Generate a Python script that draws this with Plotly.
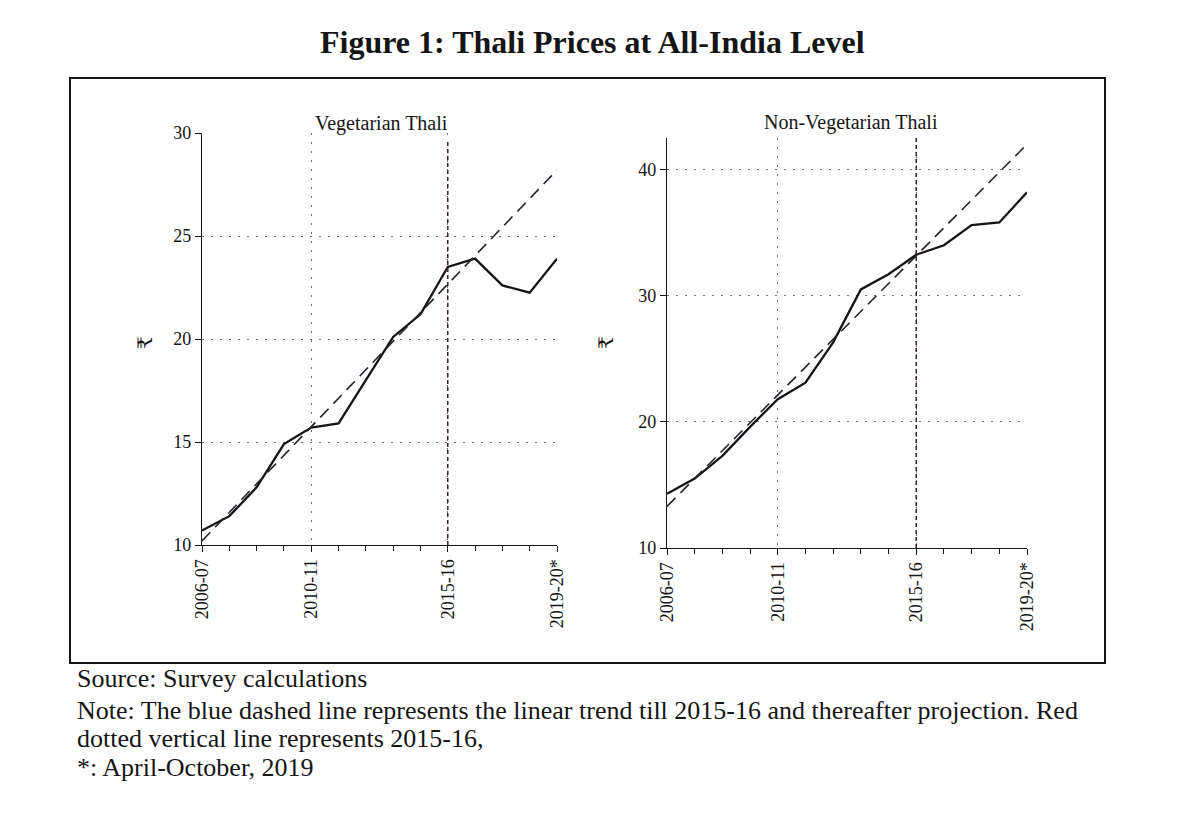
import plotly.graph_objects as go

# years on the x axis (fiscal years), * = April-October 2019
years = ["2006-07", "2007-08", "2008-09", "2009-10", "2010-11", "2011-12", "2012-13",
         "2013-14", "2014-15", "2015-16", "2016-17", "2017-18", "2018-19", "2019-20*"]
labelled = ["2006-07", "2010-11", "2015-16", "2019-20*"]

# thali prices in rupees
veg_price = [10.7, 11.4, 12.8, 14.9, 15.7, 15.9, 18.0, 20.1, 21.2, 23.5, 23.9, 22.6, 22.25, 23.9]
nonveg_price = [14.3, 15.5, 17.3, 19.6, 21.8, 23.1, 26.3, 30.5, 31.7, 33.25, 34.0, 35.6, 35.8, 38.2]

# linear trend till 2015-16 and projection after it (start and end values)
trend_years = ["2006-07", "2019-20*"]
veg_trend = [10.2, 28.2]
nonveg_trend = [13.3, 42.0]

veg_ticks = [10, 15, 20, 25, 30]
nonveg_ticks = [10, 20, 30, 40]

FONT = "Liberation Serif, Times New Roman, DejaVu Serif, serif"
INK = "#151515"
GRID = "#707070"

# page has an 8px body margin, so the figure is a bit smaller than the window
OFF = 8
W, H = 1200 - 2 * OFF, 818 - 2 * OFF


def px(x):
    return (x - OFF) / W


def py(y):
    return 1 - (y - OFF) / H


def pos(names):
    return [years.index(n) for n in names]


x_all = list(range(len(years)))

fig = go.Figure()

panels = [
    ("x", "y", veg_price, veg_trend),
    ("x2", "y2", nonveg_price, nonveg_trend),
]
for xa, ya, price, trend in panels:
    fig.add_scatter(x=x_all, y=price, xaxis=xa, yaxis=ya, mode="lines",
                    line=dict(color=INK, width=2.3), cliponaxis=False,
                    showlegend=False, hoverinfo="skip")
    fig.add_scatter(x=pos(trend_years), y=trend, xaxis=xa, yaxis=ya, mode="lines",
                    line=dict(color="#23222e", width=1.6, dash="12px,7px"),
                    cliponaxis=False, showlegend=False, hoverinfo="skip")

# vertical 2015-16 marker
for xa, ya, top in [("x", "y", 0.985), ("x2", "y2", 1.0)]:
    fig.add_shape(type="line", xref=xa, yref=ya + " domain",
                  x0=years.index("2015-16"), x1=years.index("2015-16"), y0=0, y1=top,
                  line=dict(color="#3a1d26", width=1.5, dash="4px,3px"))

xaxis_style = dict(
    range=[0, len(years) - 1],
    tickmode="array", tickvals=pos(labelled), ticktext=labelled,
    tickangle=-90, ticks="outside", ticklen=6, tickcolor=INK,
    tickfont=dict(family=FONT, size=18, color=INK),
    showline=True, linecolor=INK, linewidth=1.3,
    showgrid=True, gridcolor=GRID, griddash="2px,7px", gridwidth=1,
    zeroline=False, automargin=False,
    minor=dict(dtick=1, tick0=0, ticks="outside", ticklen=5, tickcolor=INK, showgrid=False),
)
yaxis_style = dict(
    tickmode="array", ticks="outside", ticklen=6, tickcolor=INK,
    tickfont=dict(family=FONT, size=18, color=INK),
    showline=True, linecolor=INK, linewidth=1.3,
    showgrid=True, gridcolor=GRID, griddash="2px,7px", gridwidth=1,
    zeroline=False, automargin=False,
)

fig.update_layout(
    width=W, height=H,
    margin=dict(l=0, r=0, t=0, b=0),
    paper_bgcolor="white", plot_bgcolor="white",
    font=dict(family=FONT, color=INK),
    xaxis=dict(xaxis_style, domain=[px(202), px(557)], anchor="y"),
    yaxis=dict(yaxis_style, domain=[py(545), py(133)], anchor="x",
               range=[10, 30], tickvals=veg_ticks),
    xaxis2=dict(xaxis_style, domain=[px(667), px(1027)], anchor="y2"),
    yaxis2=dict(yaxis_style, domain=[py(548), py(138)], anchor="x2",
                range=[10, 42.5], tickvals=nonveg_ticks),
)

# outer frame of the figure
fig.add_shape(type="rect", xref="paper", yref="paper",
              x0=px(70), x1=px(1105), y0=py(663), y1=py(78),
              line=dict(color=INK, width=2))

ann = dict(xref="paper", yref="paper", showarrow=False, xanchor="center", yanchor="middle")
fig.add_annotation(ann, x=px(592), y=py(42), text="<b>Figure 1: Thali Prices at All-India Level</b>",
                   font=dict(family=FONT, size=32, color=INK))
fig.add_annotation(ann, x=px(381), y=py(123), text="Vegetarian Thali",
                   font=dict(family=FONT, size=20, color=INK))
fig.add_annotation(ann, x=px(851), y=py(122), text="Non-Vegetarian Thali",
                   font=dict(family=FONT, size=20, color=INK))
for rx in [145, 606]:
    fig.add_annotation(ann, x=px(rx), y=py(343), text="₹", textangle=-90,
                       font=dict(family=FONT, size=20, color=INK))

notes = [
    ("Source: Survey calculations", 678),
    ("Note: The blue dashed line represents the linear trend till 2015-16 and thereafter projection. Red", 710),
    ("dotted vertical line represents 2015-16,", 738),
    ("*: April-October, 2019", 767),
]
for text, ny in notes:
    fig.add_annotation(ann, x=px(75), y=py(ny), text=text, xanchor="left",
                       font=dict(family=FONT, size=26, color=INK))

fig.write_html("out.html")
